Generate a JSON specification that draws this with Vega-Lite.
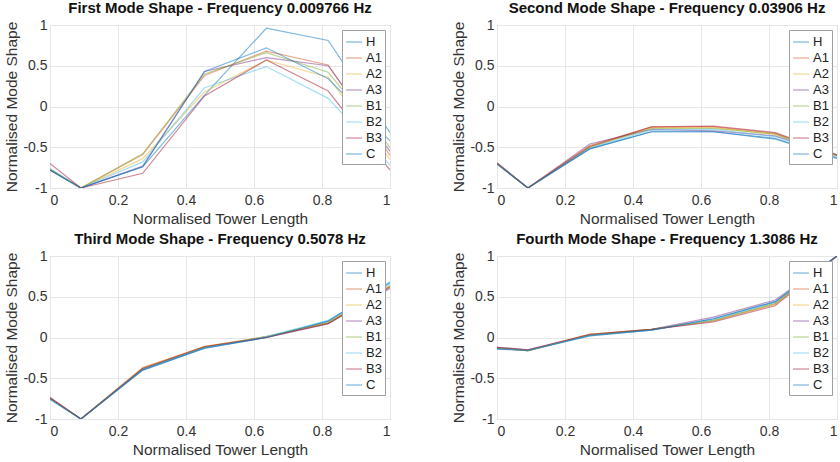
{
  "$schema": "https://vega.github.io/schema/vega-lite/v6.json",
  "background": "white",
  "padding": {"left": 4, "top": 0, "right": 0, "bottom": 0},
  "config": {
    "font": "Liberation Sans",
    "view": {"stroke": "#c8c8c8", "strokeWidth": 1},
    "axis": {
      "grid": true, "gridColor": "#e6e6e6", "domain": false, "ticks": false,
      "labelFontSize": 14, "labelColor": "#333333",
      "titleFontSize": 15.5, "titleFontWeight": "normal", "titleColor": "#333333"
    },
    "axisX": {"labelPadding": 5, "titlePadding": 4},
    "axisY": {"labelPadding": 3, "titlePadding": 3},
    "title": {"fontSize": 15, "fontWeight": "bold", "color": "#111111", "offset": 2, "anchor": "middle"},
    "legend": {
      "orient": "top-right", "offset": 5, "padding": 3,
      "strokeColor": "#a0a0a0", "fillColor": "white",
      "symbolType": "stroke", "symbolSize": 256, "symbolStrokeWidth": 1.2, "symbolOpacity": 0.5,
      "labelFontSize": 13, "labelColor": "#222222", "labelOffset": 3, "rowPadding": -1
    }
  },
  "data": {"values": [
    {"p": 1, "x": 0, "H": -0.78, "A1": -0.77, "A2": -0.77, "A3": -0.78, "B1": -0.77, "B2": -0.76, "B3": -0.7, "C": -0.78},
    {"p": 1, "x": 0.0909, "H": -1, "A1": -1, "A2": -1, "A3": -1, "B1": -1, "B2": -1, "B3": -1, "C": -1},
    {"p": 1, "x": 0.2727, "H": -0.74, "A1": -0.59, "A2": -0.64, "A3": -0.73, "B1": -0.58, "B2": -0.68, "B3": -0.82, "C": -0.74},
    {"p": 1, "x": 0.4545, "H": 0.14, "A1": 0.38, "A2": 0.18, "A3": 0.43, "B1": 0.4, "B2": 0.23, "B3": 0.13, "C": 0.43},
    {"p": 1, "x": 0.6364, "H": 0.96, "A1": 0.68, "A2": 0.57, "A3": 0.6, "B1": 0.66, "B2": 0.49, "B3": 0.57, "C": 0.72},
    {"p": 1, "x": 0.8182, "H": 0.81, "A1": 0.51, "A2": 0.36, "A3": 0.5, "B1": 0.42, "B2": 0.1, "B3": 0.19, "C": 0.34},
    {"p": 1, "x": 1, "H": -0.32, "A1": -0.6, "A2": -0.65, "A3": -0.55, "B1": -0.5, "B2": -0.72, "B3": -0.78, "C": -0.42},
    {"p": 2, "x": 0, "H": -0.7, "A1": -0.7, "A2": -0.7, "A3": -0.69, "B1": -0.7, "B2": -0.7, "B3": -0.7, "C": -0.71},
    {"p": 2, "x": 0.0909, "H": -1, "A1": -1, "A2": -1, "A3": -1, "B1": -1, "B2": -1, "B3": -1, "C": -1},
    {"p": 2, "x": 0.2727, "H": -0.52, "A1": -0.48, "A2": -0.5, "A3": -0.46, "B1": -0.5, "B2": -0.51, "B3": -0.49, "C": -0.52},
    {"p": 2, "x": 0.4545, "H": -0.31, "A1": -0.25, "A2": -0.26, "A3": -0.28, "B1": -0.27, "B2": -0.29, "B3": -0.25, "C": -0.31},
    {"p": 2, "x": 0.6364, "H": -0.31, "A1": -0.25, "A2": -0.26, "A3": -0.3, "B1": -0.27, "B2": -0.28, "B3": -0.24, "C": -0.31},
    {"p": 2, "x": 0.8182, "H": -0.4, "A1": -0.33, "A2": -0.34, "A3": -0.36, "B1": -0.34, "B2": -0.37, "B3": -0.32, "C": -0.39},
    {"p": 2, "x": 1, "H": -0.63, "A1": -0.6, "A2": -0.61, "A3": -0.6, "B1": -0.6, "B2": -0.62, "B3": -0.59, "C": -0.64},
    {"p": 3, "x": 0, "H": -0.75, "A1": -0.74, "A2": -0.74, "A3": -0.74, "B1": -0.75, "B2": -0.75, "B3": -0.74, "C": -0.76},
    {"p": 3, "x": 0.0909, "H": -1, "A1": -1, "A2": -1, "A3": -1, "B1": -1, "B2": -1, "B3": -1, "C": -1},
    {"p": 3, "x": 0.2727, "H": -0.4, "A1": -0.37, "A2": -0.38, "A3": -0.39, "B1": -0.38, "B2": -0.39, "B3": -0.38, "C": -0.4},
    {"p": 3, "x": 0.4545, "H": -0.13, "A1": -0.11, "A2": -0.11, "A3": -0.12, "B1": -0.12, "B2": -0.13, "B3": -0.11, "C": -0.13},
    {"p": 3, "x": 0.6364, "H": 0, "A1": 0.01, "A2": 0.01, "A3": 0, "B1": 0.01, "B2": 0.01, "B3": 0, "C": 0},
    {"p": 3, "x": 0.8182, "H": 0.2, "A1": 0.18, "A2": 0.18, "A3": 0.17, "B1": 0.18, "B2": 0.21, "B3": 0.17, "C": 0.2},
    {"p": 3, "x": 1, "H": 0.67, "A1": 0.63, "A2": 0.62, "A3": 0.6, "B1": 0.64, "B2": 0.66, "B3": 0.62, "C": 0.68},
    {"p": 4, "x": 0, "H": -0.14, "A1": -0.13, "A2": -0.13, "A3": -0.12, "B1": -0.13, "B2": -0.14, "B3": -0.12, "C": -0.14},
    {"p": 4, "x": 0.0909, "H": -0.16, "A1": -0.16, "A2": -0.16, "A3": -0.15, "B1": -0.16, "B2": -0.15, "B3": -0.15, "C": -0.16},
    {"p": 4, "x": 0.2727, "H": 0.03, "A1": 0.04, "A2": 0.04, "A3": 0.03, "B1": 0.03, "B2": 0.02, "B3": 0.04, "C": 0.02},
    {"p": 4, "x": 0.4545, "H": 0.09, "A1": 0.1, "A2": 0.1, "A3": 0.1, "B1": 0.1, "B2": 0.09, "B3": 0.1, "C": 0.09},
    {"p": 4, "x": 0.6364, "H": 0.23, "A1": 0.2, "A2": 0.21, "A3": 0.25, "B1": 0.21, "B2": 0.22, "B3": 0.19, "C": 0.23},
    {"p": 4, "x": 0.8182, "H": 0.44, "A1": 0.41, "A2": 0.41, "A3": 0.46, "B1": 0.42, "B2": 0.43, "B3": 0.39, "C": 0.44},
    {"p": 4, "x": 1, "H": 1, "A1": 1, "A2": 1, "A3": 1, "B1": 1, "B2": 1, "B3": 1, "C": 1}
  ]},
  "columns": 2,
  "spacing": {"row": 4, "column": 60},
  "resolve": {"legend": {"color": "independent"}, "scale": {"color": "independent"}},
  "concat": [
    {
      "title": "First Mode Shape - Frequency 0.009766 Hz",
      "width": 340, "height": 163,
      "transform": [{"filter": "datum.p == 1"}, {"fold": ["H", "A1", "A2", "A3", "B1", "B2", "B3", "C"], "as": ["series", "y"]}],
      "mark": {"type": "line", "strokeWidth": 1.2, "opacity": 0.5, "clip": true},
      "encoding": {
        "x": {"field": "x", "type": "quantitative", "scale": {"domain": [0, 1], "nice": false}, "axis": {"values": [0, 0.2, 0.4, 0.6, 0.8, 1], "labelExpr": "'' + datum.value", "title": "Normalised Tower Length"}},
        "y": {"field": "y", "type": "quantitative", "scale": {"domain": [-1, 1], "nice": false}, "axis": {"values": [-1, -0.5, 0, 0.5, 1], "labelExpr": "'' + datum.value", "title": "Normalised Mode Shape"}},
        "color": {"field": "series", "type": "nominal", "scale": {"domain": ["H", "A1", "A2", "A3", "B1", "B2", "B3", "C"], "range": ["#0072BD", "#D95319", "#EDB120", "#7E2F8E", "#77AC30", "#4DBEEE", "#A2142F", "#0072BD"]}, "legend": {"title": null}},
        "order": {"field": "x"}
      }
    },
    {
      "title": "Second Mode Shape - Frequency 0.03906 Hz",
      "width": 340, "height": 163,
      "transform": [{"filter": "datum.p == 2"}, {"fold": ["H", "A1", "A2", "A3", "B1", "B2", "B3", "C"], "as": ["series", "y"]}],
      "mark": {"type": "line", "strokeWidth": 1.2, "opacity": 0.5, "clip": true},
      "encoding": {
        "x": {"field": "x", "type": "quantitative", "scale": {"domain": [0, 1], "nice": false}, "axis": {"values": [0, 0.2, 0.4, 0.6, 0.8, 1], "labelExpr": "'' + datum.value", "title": "Normalised Tower Length"}},
        "y": {"field": "y", "type": "quantitative", "scale": {"domain": [-1, 1], "nice": false}, "axis": {"values": [-1, -0.5, 0, 0.5, 1], "labelExpr": "'' + datum.value", "title": "Normalised Mode Shape"}},
        "color": {"field": "series", "type": "nominal", "scale": {"domain": ["H", "A1", "A2", "A3", "B1", "B2", "B3", "C"], "range": ["#0072BD", "#D95319", "#EDB120", "#7E2F8E", "#77AC30", "#4DBEEE", "#A2142F", "#0072BD"]}, "legend": {"title": null}},
        "order": {"field": "x"}
      }
    },
    {
      "title": "Third Mode Shape - Frequency 0.5078 Hz",
      "width": 340, "height": 163,
      "transform": [{"filter": "datum.p == 3"}, {"fold": ["H", "A1", "A2", "A3", "B1", "B2", "B3", "C"], "as": ["series", "y"]}],
      "mark": {"type": "line", "strokeWidth": 1.2, "opacity": 0.5, "clip": true},
      "encoding": {
        "x": {"field": "x", "type": "quantitative", "scale": {"domain": [0, 1], "nice": false}, "axis": {"values": [0, 0.2, 0.4, 0.6, 0.8, 1], "labelExpr": "'' + datum.value", "title": "Normalised Tower Length"}},
        "y": {"field": "y", "type": "quantitative", "scale": {"domain": [-1, 1], "nice": false}, "axis": {"values": [-1, -0.5, 0, 0.5, 1], "labelExpr": "'' + datum.value", "title": "Normalised Mode Shape"}},
        "color": {"field": "series", "type": "nominal", "scale": {"domain": ["H", "A1", "A2", "A3", "B1", "B2", "B3", "C"], "range": ["#0072BD", "#D95319", "#EDB120", "#7E2F8E", "#77AC30", "#4DBEEE", "#A2142F", "#0072BD"]}, "legend": {"title": null}},
        "order": {"field": "x"}
      }
    },
    {
      "title": "Fourth Mode Shape - Frequency 1.3086 Hz",
      "width": 340, "height": 163,
      "transform": [{"filter": "datum.p == 4"}, {"fold": ["H", "A1", "A2", "A3", "B1", "B2", "B3", "C"], "as": ["series", "y"]}],
      "mark": {"type": "line", "strokeWidth": 1.2, "opacity": 0.5, "clip": true},
      "encoding": {
        "x": {"field": "x", "type": "quantitative", "scale": {"domain": [0, 1], "nice": false}, "axis": {"values": [0, 0.2, 0.4, 0.6, 0.8, 1], "labelExpr": "'' + datum.value", "title": "Normalised Tower Length"}},
        "y": {"field": "y", "type": "quantitative", "scale": {"domain": [-1, 1], "nice": false}, "axis": {"values": [-1, -0.5, 0, 0.5, 1], "labelExpr": "'' + datum.value", "title": "Normalised Mode Shape"}},
        "color": {"field": "series", "type": "nominal", "scale": {"domain": ["H", "A1", "A2", "A3", "B1", "B2", "B3", "C"], "range": ["#0072BD", "#D95319", "#EDB120", "#7E2F8E", "#77AC30", "#4DBEEE", "#A2142F", "#0072BD"]}, "legend": {"title": null}},
        "order": {"field": "x"}
      }
    }
  ]
}
